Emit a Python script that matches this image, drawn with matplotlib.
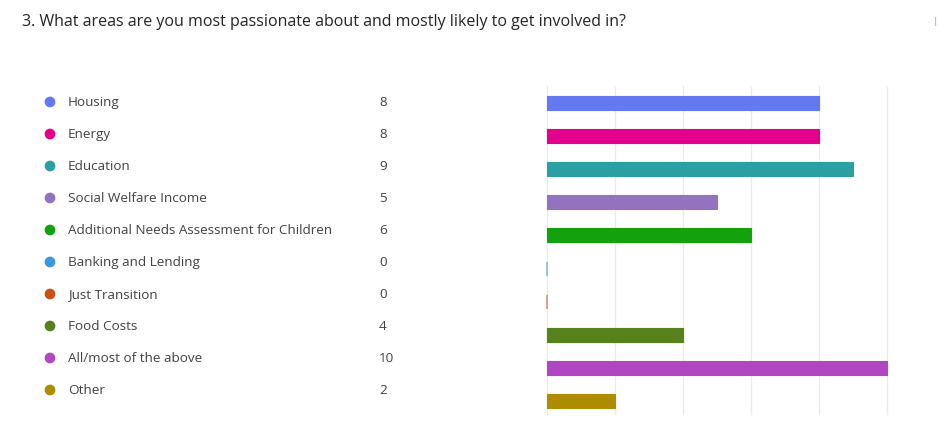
import matplotlib.pyplot as plt

# survey answers
categories = ["Housing", "Energy", "Education", "Social Welfare Income",
              "Additional Needs Assessment for Children", "Banking and Lending",
              "Just Transition", "Food Costs", "All/most of the above", "Other"]
counts = [8, 8, 9, 5, 6, 0, 0, 4, 10, 2]
colors = ["#6479EF", "#E3008C", "#2AA0A4", "#9373C0", "#13A10E",
          "#3A96DD", "#CA5010", "#57811B", "#B146C2", "#AE8C00"]
grid_ticks = [0, 2, 4, 6, 8, 10]

title = "3. What areas are you most passionate about and mostly likely to get involved in?"

plt.rcParams['font.family'] = ['Open Sans', 'DejaVu Sans']

W, H = 939, 422
fig = plt.figure(figsize=(W / 100, H / 100), dpi=100)
fig.patch.set_facecolor("white")

fig.text(22 / W, 1 - 22 / H, title, fontsize=11.5, color="#242424", va="center", ha="left")
fig.text(935 / W, 1 - 22 / H, "!", fontsize=9, color="#A8B4F0", va="center", ha="center")

# legend list on the left
top, bottom = 86, 414
ax_leg = fig.add_axes([0, 1 - bottom / H, 530 / W, (bottom - top) / H])
ax_leg.set_xlim(0, 530)
ax_leg.set_ylim((bottom - 102) / 32, (top - 102) / 32)
ax_leg.axis("off")
for i, (cat, n, c) in enumerate(zip(categories, counts, colors)):
    ax_leg.scatter(50, i, s=60, color=c, edgecolors="none")
    ax_leg.text(68, i + 0.03, cat, fontsize=9.7, color="#424242", va="center", ha="left")
    ax_leg.text(379, i + 0.03, str(n), fontsize=9.7, color="#424242", va="center", ha="left")

# bar chart on the right
x0, x1 = 547, 887
ax = fig.add_axes([x0 / W, 1 - bottom / H, (x1 - x0) / W, (bottom - top) / H])
rows = range(len(categories))
bars = ax.barh(rows, counts, height=0.42, color=colors, edgecolor=colors, linewidth=0.8, zorder=3)
for b, n in zip(bars, counts):
    if n == 0:
        b.set_linewidth(1.2)
        b.set_alpha(0.6)
ax.set_xlim(0, 10)
ax.set_ylim(9 + (bottom - 401) / 33.1, -(103 - top) / 33.1)
ax.set_xticks(grid_ticks)
ax.set_yticks([])
ax.grid(axis="x", color="#EBEBEB", linewidth=1, zorder=0)
for g in ax.get_xgridlines():
    g.set_clip_on(False)
ax.tick_params(axis="x", length=0, labelbottom=False)
for s in ax.spines.values():
    s.set_visible(False)
for p in ax.patches:
    p.set_clip_on(False)

fig.savefig("out.png", dpi=100, facecolor="white")
